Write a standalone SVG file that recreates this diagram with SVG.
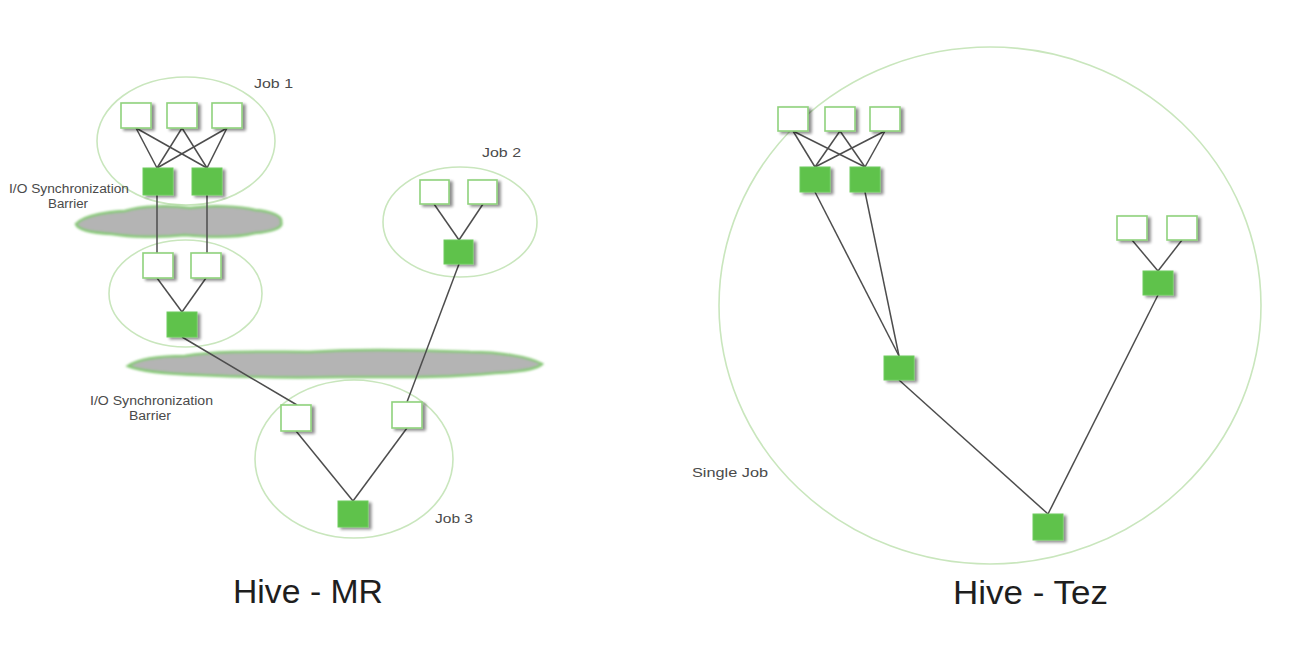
<svg xmlns="http://www.w3.org/2000/svg" width="1314" height="662" viewBox="0 0 1314 662">
<defs>
<filter id="sh" x="-30%" y="-30%" width="170%" height="170%">
<feGaussianBlur in="SourceAlpha" stdDeviation="1.5"/>
<feOffset dx="3" dy="2" result="b"/>
<feComponentTransfer><feFuncA type="linear" slope="0.45"/></feComponentTransfer>
<feMerge><feMergeNode/><feMergeNode in="SourceGraphic"/></feMerge>
</filter>
<filter id="soft" x="-5%" y="-30%" width="110%" height="160%">
<feGaussianBlur stdDeviation="0.8"/>
</filter>
</defs>
<style>
.bg{fill:#ffffff}
.grp{fill:none;stroke:#c9e6bd;stroke-width:1.6}
.w{fill:#ffffff;stroke:#8fd27c;stroke-width:1.6;filter:url(#sh)}
.g{fill:#5fc24c;stroke:#6fcc5c;stroke-width:1;filter:url(#sh)}
.cl{fill:#b4b4b4;stroke:#86c876;stroke-width:2.5;filter:url(#soft)}
.e{stroke:#4d4d4d;stroke-width:1.5;fill:none}
.lbl{font-family:"Liberation Sans",Arial,sans-serif;font-size:12px;fill:#4a4a4a}
.ttl{font-family:"Liberation Sans",Arial,sans-serif;font-size:34px;fill:#1e1e1e}
</style>
<rect class="bg" x="0" y="0" width="1314" height="662"/>

<g id="containers">
<ellipse id="job1" class="grp" cx="186" cy="141" rx="89" ry="64"/>
<ellipse id="job1-reduce" class="grp" cx="185.5" cy="293.5" rx="76.5" ry="53.5"/>
<ellipse id="job2" class="grp" cx="460" cy="222" rx="77" ry="55"/>
<ellipse id="job3" class="grp" cx="354" cy="459" rx="99" ry="79"/>
<ellipse id="single-job" class="grp" cx="990" cy="305.5" rx="271" ry="258.5"/>
</g>

<g id="barriers">
<path id="barrier1" class="cl" d="M 76 224 C 85 214, 110 212, 125 211 C 140 206, 170 205, 190 208 C 210 205, 240 206, 255 210 C 270 211, 283 216, 281 222 C 284 228, 270 232, 255 233 C 235 238, 205 237, 185 235 C 160 238, 130 237, 112 234 C 95 233, 78 230, 76 224 Z"/>
<path id="barrier2" class="cl" d="M 128 366 C 140 358, 160 356, 185 356 C 220 350, 270 352, 310 352 C 350 349, 420 350, 470 352 C 500 352, 530 357, 542 364 C 536 370, 515 372, 495 373 C 450 378, 390 377, 340 377 C 290 378, 240 377, 200 375 C 170 374, 140 371, 128 366 Z"/>
</g>

<g id="connectors">
<line class="e" x1="136" y1="128" x2="157" y2="168"/>
<line class="e" x1="136" y1="128" x2="207" y2="168"/>
<line class="e" x1="182" y1="128" x2="157" y2="168"/>
<line class="e" x1="182" y1="128" x2="207" y2="168"/>
<line class="e" x1="227" y1="128" x2="157" y2="168"/>
<line class="e" x1="227" y1="128" x2="207" y2="168"/>
<line class="e" x1="157" y1="195" x2="157" y2="253"/>
<line class="e" x1="207" y1="195" x2="207" y2="253"/>
<line class="e" x1="157" y1="278" x2="182" y2="312"/>
<line class="e" x1="206" y1="278" x2="182" y2="312"/>
<line class="e" x1="434" y1="204" x2="459" y2="240"/>
<line class="e" x1="483" y1="204" x2="459" y2="240"/>
<line class="e" x1="182" y1="337" x2="297" y2="405"/>
<line class="e" x1="459" y1="264" x2="407" y2="402"/>
<line class="e" x1="296" y1="431" x2="353" y2="501"/>
<line class="e" x1="407" y1="428" x2="353" y2="501"/>

<line class="e" x1="793" y1="131" x2="815" y2="167"/>
<line class="e" x1="793" y1="131" x2="865" y2="167"/>
<line class="e" x1="840" y1="131" x2="815" y2="167"/>
<line class="e" x1="840" y1="131" x2="865" y2="167"/>
<line class="e" x1="885" y1="131" x2="815" y2="167"/>
<line class="e" x1="885" y1="131" x2="865" y2="167"/>
<line class="e" x1="815" y1="192" x2="899" y2="356"/>
<line class="e" x1="865" y1="192" x2="899" y2="356"/>
<line class="e" x1="1132" y1="240" x2="1158" y2="271"/>
<line class="e" x1="1182" y1="240" x2="1158" y2="271"/>
<line class="e" x1="1158" y1="295" x2="1048" y2="514"/>
<line class="e" x1="899" y1="380" x2="1048" y2="514"/>
</g>

<g id="mr-nodes">
<rect id="mr-j1-in1" class="w" x="121" y="103" width="30" height="25"/>
<rect id="mr-j1-in2" class="w" x="167" y="103" width="30" height="25"/>
<rect id="mr-j1-in3" class="w" x="212" y="103" width="30" height="25"/>
<rect id="mr-j1-m1" class="g" x="143" y="168" width="30" height="27"/>
<rect id="mr-j1-m2" class="g" x="192" y="168" width="30" height="27"/>
<rect id="mr-r-in1" class="w" x="143" y="253" width="30" height="25"/>
<rect id="mr-r-in2" class="w" x="191" y="253" width="30" height="25"/>
<rect id="mr-r-out" class="g" x="167" y="312" width="30" height="25"/>
<rect id="mr-j2-in1" class="w" x="420" y="180" width="29" height="24"/>
<rect id="mr-j2-in2" class="w" x="468" y="180" width="29" height="24"/>
<rect id="mr-j2-out" class="g" x="444" y="240" width="29" height="24"/>
<rect id="mr-j3-in1" class="w" x="281" y="405" width="30" height="26"/>
<rect id="mr-j3-in2" class="w" x="392" y="402" width="30" height="26"/>
<rect id="mr-j3-out" class="g" x="338" y="501" width="30" height="26"/>
</g>

<g id="tez-nodes">
<rect id="tez-in1" class="w" x="778" y="107" width="30" height="24"/>
<rect id="tez-in2" class="w" x="825" y="107" width="30" height="24"/>
<rect id="tez-in3" class="w" x="870" y="107" width="30" height="24"/>
<rect id="tez-m1" class="g" x="800" y="167" width="30" height="25"/>
<rect id="tez-m2" class="g" x="850" y="167" width="30" height="25"/>
<rect id="tez-in4" class="w" x="1117" y="216" width="30" height="24"/>
<rect id="tez-in5" class="w" x="1167" y="216" width="30" height="24"/>
<rect id="tez-m3" class="g" x="1143" y="271" width="30" height="24"/>
<rect id="tez-r1" class="g" x="884" y="356" width="30" height="24"/>
<rect id="tez-out" class="g" x="1033" y="514" width="30" height="26"/>
</g>

<g id="labels">
<text class="lbl" x="254" y="88" textLength="39" lengthAdjust="spacingAndGlyphs">Job 1</text>
<text class="lbl" x="482" y="157" textLength="39" lengthAdjust="spacingAndGlyphs">Job 2</text>
<text class="lbl" x="435" y="523" textLength="38" lengthAdjust="spacingAndGlyphs">Job 3</text>
<text class="lbl" x="692" y="477" textLength="76" lengthAdjust="spacingAndGlyphs">Single Job</text>
<text class="lbl" x="9" y="193" textLength="120" lengthAdjust="spacingAndGlyphs">I/O Synchronization</text>
<text class="lbl" x="48" y="208" textLength="40" lengthAdjust="spacingAndGlyphs">Barrier</text>
<text class="lbl" x="90" y="405" textLength="123" lengthAdjust="spacingAndGlyphs">I/O Synchronization</text>
<text class="lbl" x="129" y="420" textLength="42" lengthAdjust="spacingAndGlyphs">Barrier</text>
<text class="ttl" x="233" y="603" textLength="150" lengthAdjust="spacingAndGlyphs">Hive - MR</text>
<text class="ttl" x="953" y="604" textLength="155" lengthAdjust="spacingAndGlyphs">Hive - Tez</text>
</g>
</svg>
